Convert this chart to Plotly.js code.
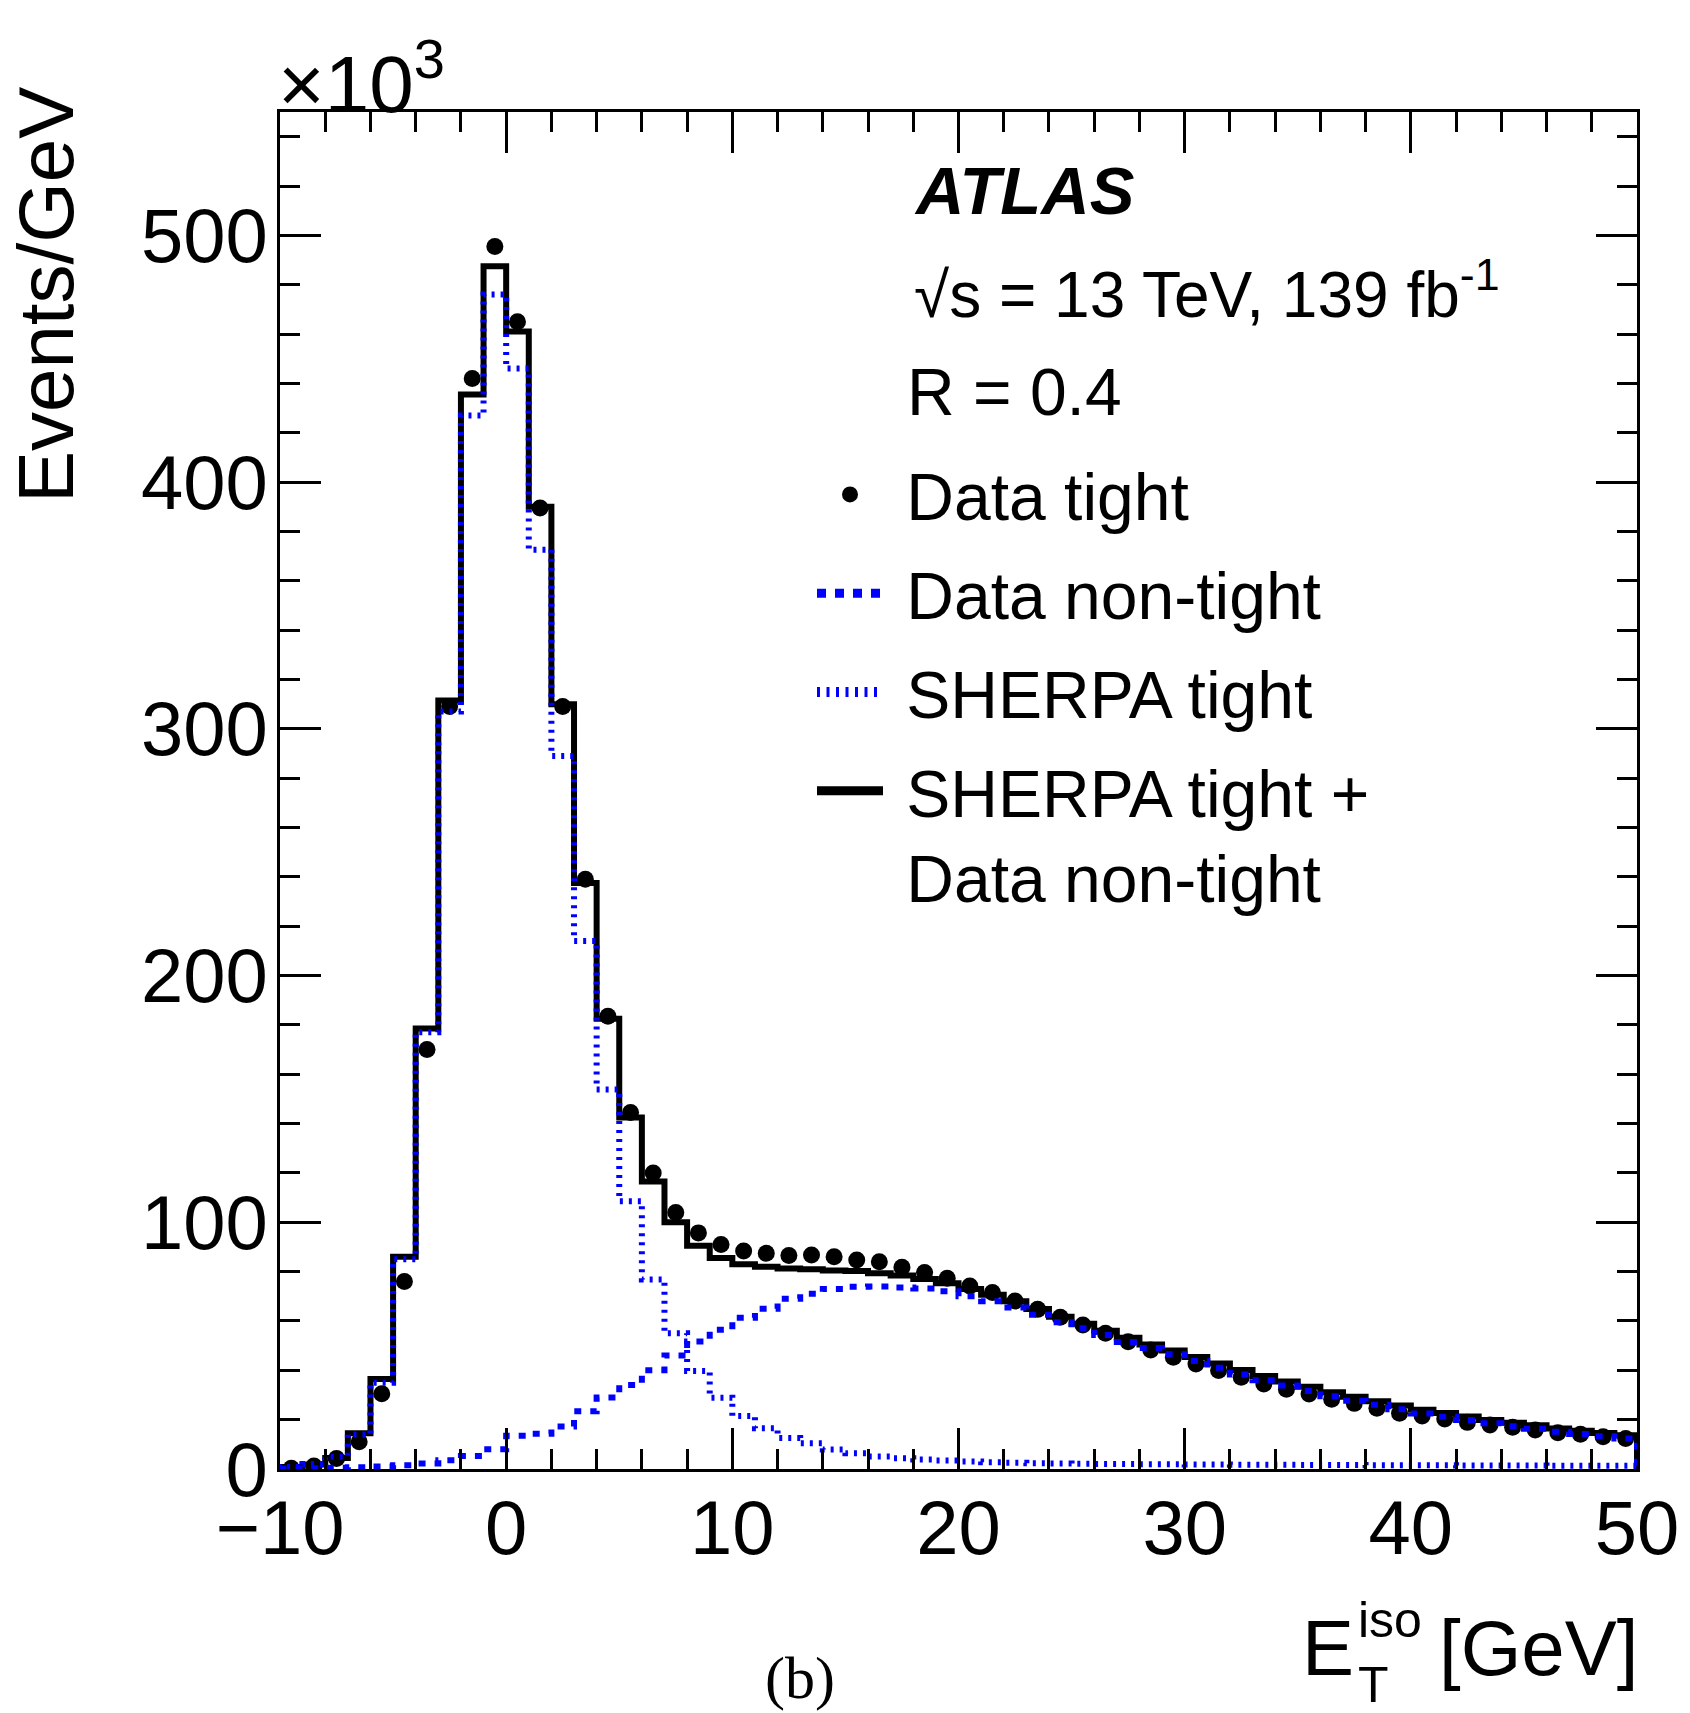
<!DOCTYPE html>
<html>
<head>
<meta charset="utf-8">
<script src="https://cdn.plot.ly/plotly-3.0.1.min.js"></script>
<style>
html,body{margin:0;padding:0;background:#ffffff;}
#chart{width:1690px;height:1713px;}
</style>
</head>
<body>
<div id="chart"></div>
<script>
// ---------------- data (values in units of 10^3 events / GeV) ----------------
const binEdges = [-10,-9,-8,-7,-6,-5,-4,-3,-2,-1,0,1,2,3,4,5,6,7,8,9,10,11,12,13,14,15,16,17,18,19,
  20,21,22,23,24,25,26,27,28,29,30,31,32,33,34,35,36,37,38,39,40,41,42,43,44,45,46,47,48,49,50];

const dataTight = [0.3,1.2,4.3,11,30.5,76,170,309,442,495.5,465,389.5,309,239,183.5,144.5,120,104,95.7,91,
  88.4,87.4,86.5,86.7,86,84.7,84,81.8,79.6,77.3,74.2,71.5,68.1,64.7,61.5,58.4,55,51.6,48.2,45.3,
  42.6,39.9,37.2,34.5,32.3,30.4,28.3,26.6,24.6,22.6,21.5,20.3,18.9,17.8,16.9,15.8,14.7,14.1,13.1,12.4];

const dataNonTight = [0.2,0.3,0.5,0.7,1.0,1.5,2.2,3.5,5.3,8,13.5,14.3,17.2,23.4,29,34,40,46,51.7,56.4,
  61.3,65,69,71,73,73.9,74,73.6,73.2,72,70,68,65.5,62.5,59.5,57,54.3,51.5,49,46.5,
  43.8,41,38.3,36,33.8,31.6,29.5,27.7,26,24.2,22.5,21.2,19.9,18.5,17.3,16.3,15.1,14.2,13.3,12.4];

const sherpaTight = [0.8,2,5,14,35,85,177,307,427,476,446,372.6,289,214,153.8,108.5,76.8,55,39.7,28.9,
  21.5,16.5,12.6,10.4,7.9,6.4,5.1,4.4,3.9,3.4,3.0,2.7,2.5,2.3,2.2,2.1,2.0,2.0,1.9,1.9,
  1.8,1.8,1.7,1.7,1.7,1.6,1.6,1.6,1.5,1.5,1.5,1.5,1.4,1.4,1.4,1.4,1.3,1.3,1.3,1.3];

const sherpaPlusNonTight = [0.8,1.8,4.5,14.5,36.5,86,178.5,311.5,435.5,487.5,461,390,310,237.5,182.5,142.5,116.5,100,90.5,85.5,
  83,82,81.3,81,80.5,80.2,79.3,78.4,77,75.3,73,70.6,68,64.8,61.7,58.9,56,53.2,50.5,48,
  45.4,42.8,40.1,37.7,35.5,33.3,31.1,29.3,27.5,25.7,24,22.7,21.3,19.9,18.7,17.7,16.4,15.5,14.6,13.7];

const seriesNames = ["Data tight", "Data non-tight", "SHERPA tight", "SHERPA tight +<br>\u00a0Data non-tight"];
const xTickVals = [-10,0,10,20,30,40,50];
const yTickVals = [0,100,200,300,400,500];

// ---------------- helpers ----------------
function stepXY(vals){
  const x=[binEdges[0]], y=[0];
  for(let i=0;i<vals.length;i++){ x.push(binEdges[i]); y.push(vals[i]); }
  x.push(binEdges[binEdges.length-1]); y.push(0);
  return {x:x, y:y};
}
const binCenters = dataTight.map((v,i)=>(binEdges[i]+binEdges[i+1])/2);

// page geometry
const W=1690, H=1713;
const M={l:280, r:53, t:112, b:244};
const PW=W-M.l-M.r, PH=H-M.t-M.b;
const px = v => (v-M.l)/PW;           // pixel x -> paper
const py = v => (H-M.b-v)/PH;         // pixel y -> paper

const FONT="Liberation Sans, Arial, Helvetica, sans-serif";
const BLUE="#0000ff";
const NB="\u00a0";

const sumStep = stepXY(sherpaPlusNonTight);
const ntStep = stepXY(dataNonTight);
const shStep = stepXY(sherpaTight);

const traces = [
  {x:sumStep.x, y:sumStep.y, type:"scatter", mode:"lines", name:NB+seriesNames[3], legendrank:4, legendgroup:"g4",
   line:{color:"#000000", width:6, shape:"hv"}, hoverinfo:"skip"},
  {x:binCenters, y:dataTight, type:"scatter", mode:"markers", name:NB+seriesNames[0], legendrank:1, legendgroup:"g1",
   marker:{color:"#000000", size:17, symbol:"circle"}},
  {x:ntStep.x, y:ntStep.y, type:"scatter", mode:"lines", name:NB+seriesNames[1], legendrank:2, legendgroup:"g2",
   line:{color:BLUE, width:6, dash:"7px,9px", shape:"hv"}, hoverinfo:"skip"},
  {x:shStep.x, y:shStep.y, type:"scatter", mode:"lines", name:NB+seriesNames[2], legendrank:3, legendgroup:"g3",
   line:{color:BLUE, width:6, dash:"3px,6px", shape:"hv"}, hoverinfo:"skip"}
];

const axisCommon = {
  showgrid:false, zeroline:false, showline:true, linecolor:"#000", linewidth:3,
  mirror:"ticks", ticks:"inside", tickcolor:"#000", tickwidth:3, ticklen:41,
  tickfont:{family:FONT, size:76, color:"#000"}
};

const layout = {
  width:W, height:H,
  margin:M,
  paper_bgcolor:"#fff", plot_bgcolor:"#fff",
  font:{family:FONT, color:"#000"},
  showlegend:true,
  legend:{x:px(812), y:py(445), xanchor:"left", yanchor:"top", bgcolor:"rgba(0,0,0,0)",
          borderwidth:0, font:{family:FONT, size:66, color:"#000"}, itemwidth:66,
          tracegroupgap:10, traceorder:"grouped", valign:"top"},
  xaxis:Object.assign({}, axisCommon, {
    range:[binEdges[0], binEdges[binEdges.length-1]], tickmode:"array", tickvals:xTickVals,
    ticklabelstandoff:-9,
    minor:{dtick:2, tick0:-10, ticks:"inside", ticklen:20, tickwidth:3, tickcolor:"#000", showgrid:false}
  }),
  yaxis:Object.assign({}, axisCommon, {
    range:[0,550], tickmode:"array", tickvals:yTickVals, ticklabelstandoff:-6,
    minor:{dtick:20, tick0:0, ticks:"inside", ticklen:20, tickwidth:3, tickcolor:"#000", showgrid:false}
  }),
  annotations:[
    {text:"×10<sup>3</sup>", xref:"paper", yref:"paper", x:px(276), y:py(78), xanchor:"left", yanchor:"middle",
     showarrow:false, font:{family:FONT, size:80}},
    {text:"Events/GeV", xref:"paper", yref:"paper", x:px(46), y:py(295), xanchor:"center", yanchor:"middle",
     textangle:-90, showarrow:false, font:{family:FONT, size:78}},
    {text:"<b><i>ATLAS</i></b>", xref:"paper", yref:"paper", x:px(912), y:py(190), xanchor:"left", yanchor:"middle",
     showarrow:false, font:{family:FONT, size:67}},
    {text:"√s = 13 TeV, 139 fb<sup>-1</sup>", xref:"paper", yref:"paper", x:px(912), y:py(290), xanchor:"left", yanchor:"middle",
     showarrow:false, font:{family:FONT, size:64}},
    {text:"R = 0.4", xref:"paper", yref:"paper", x:px(905), y:py(392), xanchor:"left", yanchor:"middle",
     showarrow:false, font:{family:FONT, size:66}},
    {text:"E", xref:"paper", yref:"paper", x:px(1300), y:py(1648), xanchor:"left", yanchor:"middle",
     showarrow:false, font:{family:FONT, size:78}},
    {text:"iso<br>T", xref:"paper", yref:"paper", x:px(1356), y:py(1652), xanchor:"left", yanchor:"middle",
     align:"left", showarrow:false, font:{family:FONT, size:50}},
    {text:"[GeV]", xref:"paper", yref:"paper", x:px(1640), y:py(1648), xanchor:"right", yanchor:"middle",
     showarrow:false, font:{family:FONT, size:78}},
    {text:"(b)", xref:"paper", yref:"paper", x:px(800), y:py(1713), xanchor:"center", yanchor:"bottom",
     showarrow:false, font:{family:"Liberation Serif, Times New Roman, serif", size:60}}
  ]
};

Plotly.newPlot("chart", traces, layout, {displayModeBar:false, staticPlot:true}).then(function(){
  // thicker legend samples, as in the reference key
  document.querySelectorAll(".legend .traces").forEach(function(g){
    var t = g.querySelector("text.legendtext");
    var name = t ? t.textContent : "";
    var p = g.querySelector(".legendlines path");
    if(!p) return;
    if(name.indexOf("SHERPA tight +") >= 0){
      p.style.strokeWidth = "9px";
    } else if(name.indexOf("SHERPA") >= 0){
      p.style.strokeWidth = "10px"; p.style.strokeDasharray = "3px,6.5px";
    } else if(name.indexOf("non-tight") >= 0){
      p.style.strokeWidth = "9px"; p.style.strokeDasharray = "9px,9px";
    }
  });
});
</script>
</body>
</html>
